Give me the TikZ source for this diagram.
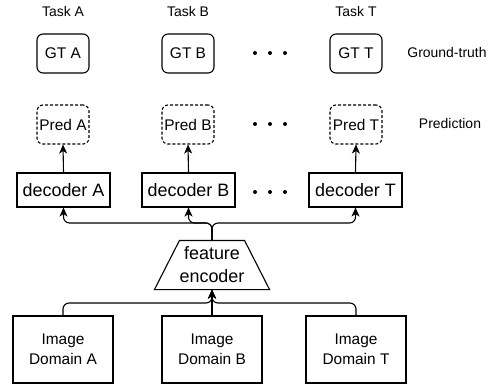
\documentclass[tikz,border=0pt]{standalone}
\usepackage{fontspec}
\setmainfont{Liberation Sans}
\usetikzlibrary{arrows.meta}
\begin{document}
\begin{tikzpicture}[x=1bp,y=-1bp,
  line width=1.1bp,
  box/.style={draw, line width=1.1bp, inner sep=0pt, align=center},
  gtbox/.style={box, rounded corners=6bp, minimum width=52bp, minimum height=39bp, font=\fontsize{15.5}{18}\selectfont},
  predbox/.style={gtbox, dash pattern=on 3bp off 2bp},
  decbox/.style={box, minimum width=93bp, minimum height=34bp, font=\fontsize{18}{20}\selectfont},
  imgbox/.style={box, minimum width=100bp, minimum height=67bp, font=\fontsize{15.5}{20}\selectfont},
  lbl/.style={inner sep=0pt, font=\fontsize{14}{16}\selectfont},
  conn/.style={line width=1.1bp, rounded corners=6bp, -{Stealth[length=9bp,width=8bp,inset=2.5bp]}},
  dot/.style={fill=black, draw=none, circle, minimum size=4bp, inner sep=0pt}
]
\useasboundingbox (0,0) rectangle (497,385);

% task labels
\node[lbl] (taskA) at (63,12) {Task A};
\node[lbl] (taskB) at (188,12) {Task B};
\node[lbl] (taskT) at (356,12) {Task T};

% ground truth
\node[gtbox] (gtA) at (63,53.5) {GT A};
\node[gtbox] (gtB) at (188,53.5) {GT B};
\node[gtbox] (gtT) at (356,53.5) {GT T};
\node[lbl] (gtlbl) at (447,53) {Ground-truth};

% predictions
\node[predbox] (predA) at (63,124.5) {Pred A};
\node[predbox] (predB) at (188,124.5) {Pred B};
\node[predbox] (predT) at (356,124.5) {Pred T};
\node[lbl] (predlbl) at (450,124) {Prediction};

% decoders
\node[decbox] (decA) at (63.5,190) {decoder A};
\node[decbox] (decB) at (188.5,190) {decoder B};
\node[decbox] (decT) at (355.5,190) {decoder T};

% dots
\foreach \yy/\nm in {53/g,124/p,192/d}{
  \node[dot] (\nm1) at (255,\yy) {};
  \node[dot] (\nm2) at (270,\yy) {};
  \node[dot] (\nm3) at (285,\yy) {};
}

% encoder
\node[inner sep=0pt, minimum width=114bp, minimum height=48bp, align=center,
  font=\fontsize{18}{23}\selectfont] (enc) at (212,265) {feature\\encoder};
\draw[line join=miter] (enc.south west) -- (enc.south east) -- ([xshift=-25bp]enc.north east)
  -- ([xshift=25bp]enc.north west) -- cycle;

% images
\node[imgbox] (imgA) at (63,349.5) {Image\\Domain A};
\node[imgbox] (imgB) at (212,349.5) {Image\\Domain B};
\node[imgbox] (imgT) at (356,349.5) {Image\\Domain T};

% connectors
\coordinate (split) at (212,223);
\coordinate (join) at (212,303);

\draw[conn] (decA.north) -- (predA.south);
\draw[conn] (decB.north) -- (predB.south);
\draw[conn] (decT.north) -- (predT.south);

\draw[conn] (enc.north) -- (split) -| (decA.south);
\draw[conn] (enc.north) -- (split) -| (decB.south);
\draw[conn] (enc.north) -- (split) -| (decT.south);

\draw[conn] (imgA.north) |- (join) -- (enc.south);
\draw[conn] (imgB.north) -- (enc.south);
\draw[conn] (imgT.north) |- (join) -- (enc.south);
\end{tikzpicture}
\end{document}
